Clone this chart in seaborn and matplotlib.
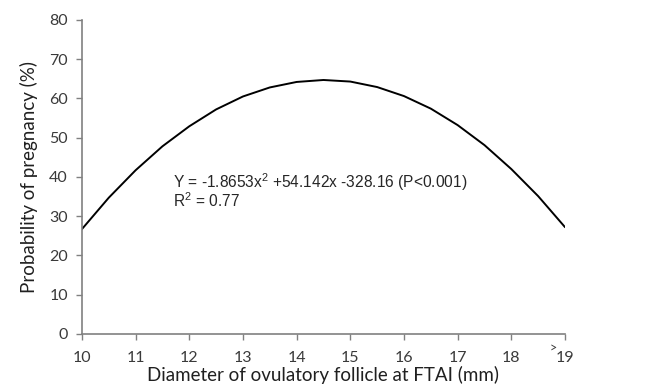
import numpy as np
import pandas as pd
import matplotlib
matplotlib.use("Agg")
import matplotlib.pyplot as plt
import seaborn as sns

# -- Data ----------------------------------------
diameter = [10, 10.5, 11, 11.5, 12, 12.5, 13, 13.5, 14, 14.5,
            15, 15.5, 16, 16.5, 17, 17.5, 18, 18.5, 19]
probability = [26.7, 34.7, 41.7, 47.8, 52.9, 57.2, 60.5, 62.8, 64.2, 64.7,
               64.3, 62.9, 60.6, 57.4, 53.2, 48.1, 42.0, 35.1, 27.2]
x_ticks = [10, 11, 12, 13, 14, 15, 16, 17, 18, 19]
y_ticks = [0, 10, 20, 30, 40, 50, 60, 70, 80]
equation = "Y = -1.8653x$^2$ +54.142x -328.16 (P<0.001)"
r_squared = "R$^2$ = 0.77"

df = pd.DataFrame({"diameter": diameter, "probability": probability})

sns.set_style("ticks")
plt.rcParams["font.family"] = ["Lato", "DejaVu Sans"]
plt.rcParams["mathtext.fontset"] = "custom"
plt.rcParams["mathtext.rm"] = "Liberation Sans"

fig = plt.figure(figsize=(6.45, 3.91), dpi=100)
ax = fig.add_axes([0.127, 0.146, 0.749, 0.803])

sns.lineplot(data=df, x="diameter", y="probability", color="black",
             linewidth=1.4, ax=ax)

ax.set_xlim(10, 19)
ax.set_ylim(0, 80)
ax.set_xticks(x_ticks)
ax.set_yticks(y_ticks)
ax.set_xticklabels([str(t) for t in x_ticks])
ax.tick_params(axis="both", colors="#808080", labelcolor="#3a3a3a",
               labelsize=11.5, length=4, width=1)
ax.tick_params(axis="x", pad=8)
ax.tick_params(axis="y", pad=6)

for side in ["top", "right"]:
    ax.spines[side].set_visible(False)
for side in ["left", "bottom"]:
    ax.spines[side].set_color("#808080")
    ax.spines[side].set_linewidth(1.2)

ax.set_xlabel("Diameter of ovulatory follicle at FTAI (mm)", fontsize=13.5,
              color="#202020", labelpad=1)
ax.set_ylabel("Probability of pregnancy (%)", fontsize=13.5,
              color="#202020", labelpad=8)

# ">" marker before the last tick label
ax.text(18.78, -3.6, ">", fontsize=9, color="#3a3a3a", ha="center",
        va="center", clip_on=False)

ax.text(11.7, 38.7, equation, fontsize=11.2, family="Liberation Sans",
        va="center", ha="left")
ax.text(11.7, 33.9, r_squared, fontsize=11.2, family="Liberation Sans",
        va="center", ha="left")

fig.savefig("out.png", dpi=100)
plt.close()
